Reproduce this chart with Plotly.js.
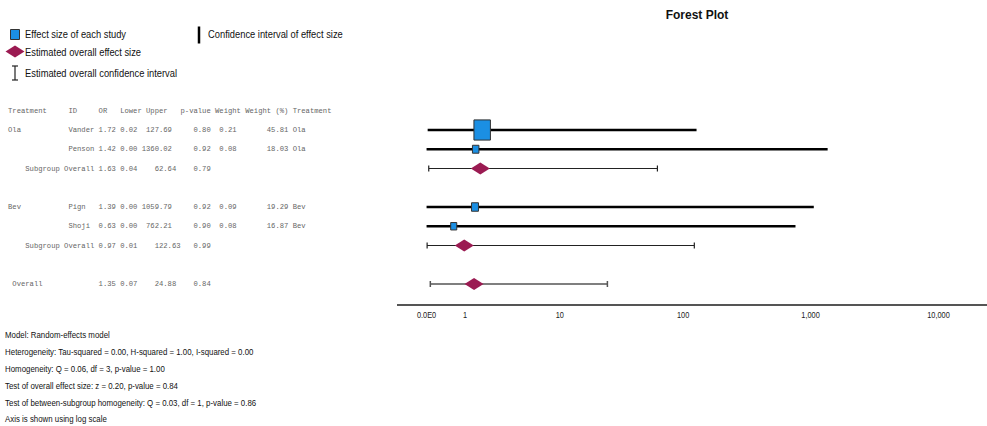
<!DOCTYPE html>
<html>
<head>
<meta charset="utf-8">
<script src="https://cdn.plot.ly/plotly-3.0.1.min.js"></script>
<style>
  html, body { margin: 0; padding: 0; background: #fff; }
  #chart { width: 987px; height: 426px; }
</style>
</head>
<body>
<div id="chart"></div>
<script>
// ---- study-level results (odds ratios with 95% CI) ----
const groupNames = ['Ola', 'Bev'];
const studyIds = ['Vander', 'Penson', 'Pign', 'Shoji'];
const studyGroups = ['Ola', 'Ola', 'Bev', 'Bev'];
const studyOR = [1.72, 1.42, 1.39, 0.63];
const studyLower = [0.02, 0.00, 0.00, 0.00];
const studyUpper = [127.69, 1360.02, 1059.79, 762.21];
const studyP = [0.80, 0.92, 0.92, 0.90];
const studyWeight = [0.21, 0.08, 0.09, 0.08];
const studyWeightPct = [45.81, 18.03, 19.29, 16.87];

// ---- subgroup pooled estimates (same order as groupNames) ----
const subgroupOR = [1.63, 0.97];
const subgroupLower = [0.04, 0.01];
const subgroupUpper = [62.64, 122.63];
const subgroupP = [0.79, 0.99];

// ---- overall pooled estimate ----
const overallOR = [1.35];
const overallLower = [0.07];
const overallUpper = [24.88];
const overallP = [0.84];

// ---- axis ticks (raw odds-ratio scale) ----
const tickValues = [0, 1, 10, 100, 1000, 10000];
const tickLabels = ['0.0E0', '1', '10', '100', '1,000', '10,000'];

// ---- model summary lines ----
const summaryLines = [
  'Model: Random-effects model',
  'Heterogeneity: Tau-squared = 0.00, H-squared = 1.00, I-squared = 0.00',
  'Homogeneity: Q = 0.06, df = 3, p-value = 1.00',
  'Test of overall effect size: z = 0.20, p-value = 0.84',
  'Test of between-subgroup homogeneity: Q = 0.03, df = 1, p-value = 0.86',
  'Axis is shown using log scale'
];

// log(1 + x) transform so that an OR of zero stays on the axis
const T = v => Math.log10(v + 1);
const f2 = v => v.toFixed(2);

// ---- geometry helpers (plot area: x 397..987 px, y 24..304 px) ----
const PL = 397, PW = 590, PT = 24, PH = 280;
const X = px => (px - PL) / PW;
const Y = py => (PT + PH - py) / PH;

const SANS = '"Liberation Sans", Arial, sans-serif';
const MONO = '"Liberation Mono", "Courier New", monospace';
const CONDENSE = 0.82; // horizontal squeeze for the condensed labels

// ---- assign rows ----
const studyRow = [], subgroupRow = [];
let row = 0;
groupNames.forEach((g, gi) => {
  studyIds.forEach((id, i) => { if (studyGroups[i] === g) { row += 1; studyRow[i] = row; } });
  row += 1; subgroupRow[gi] = row;
  row += 1; // spacer
});
row += 1;
const overallRow = [row];

// ---- table text as fixed-width lines ----
function line(parts) {
  const chars = [];
  parts.forEach(([text, col]) => {
    for (let k = 0; k < text.length; k++) chars[col + k] = text[k];
  });
  let s = '';
  for (let k = 0; k < chars.length; k++) s += chars[k] === undefined ? ' ' : chars[k];
  return s.replace(/ /g, '\u00a0');
}
const rightAt = (text, end) => [text, end - text.length];

const tableRows = [];
tableRows.push({ y: 0, text: line([['Treatment', 0], ['ID', 14], ['OR', 21], ['Lower', 26], ['Upper', 32],
  ['p-value', 40], ['Weight', 48], ['Weight (%)', 55], ['Treatment', 66]]) });
const firstInGroup = {};
studyIds.forEach((id, i) => {
  const g = studyGroups[i];
  const showGroup = !firstInGroup[g];
  firstInGroup[g] = true;
  tableRows.push({ y: studyRow[i], text: line([
    [showGroup ? g : '', 0], [id, 14], [f2(studyOR[i]), 21], [f2(studyLower[i]), 26],
    rightAt(f2(studyUpper[i]), 38), [f2(studyP[i]), 43], [f2(studyWeight[i]), 49],
    rightAt(f2(studyWeightPct[i]), 65), [g, 66]]) });
});
groupNames.forEach((g, gi) => {
  tableRows.push({ y: subgroupRow[gi], text: line([
    ['Subgroup Overall', 4], [f2(subgroupOR[gi]), 21], [f2(subgroupLower[gi]), 26],
    [f2(subgroupUpper[gi]), 34], [f2(subgroupP[gi]), 43]]) });
});
tableRows.push({ y: overallRow[0], text: line([
  ['Overall', 1], [f2(overallOR[0]), 21], [f2(overallLower[0]), 26],
  [f2(overallUpper[0]), 34], [f2(overallP[0]), 43]]) });

// ---- traces ----
const ciX = [], ciY = [];
studyIds.forEach((id, i) => {
  ciX.push(T(studyLower[i]), T(studyUpper[i]), null);
  ciY.push(studyRow[i], studyRow[i], null);
});
const traces = [
  { type: 'scatter', mode: 'lines', x: ciX, y: ciY, line: { color: '#000', width: 2.7 },
    hoverinfo: 'skip', showlegend: false },
  { type: 'scatter', mode: 'markers', x: subgroupOR.map(T), y: subgroupRow,
    marker: { size: 1, color: 'rgba(0,0,0,0)' },
    error_x: { type: 'data', symmetric: false,
      array: subgroupOR.map((v, i) => T(subgroupUpper[i]) - T(v)),
      arrayminus: subgroupOR.map((v, i) => T(v) - T(subgroupLower[i])),
      color: '#222', thickness: 1.2, width: 3 },
    hoverinfo: 'skip', showlegend: false },
  { type: 'scatter', mode: 'markers', x: overallOR.map(T), y: overallRow,
    marker: { size: 1, color: 'rgba(0,0,0,0)' },
    error_x: { type: 'data', symmetric: false,
      array: overallOR.map((v, i) => T(overallUpper[i]) - T(v)),
      arrayminus: overallOR.map((v, i) => T(v) - T(overallLower[i])),
      color: '#555', thickness: 1.5, width: 3 },
    hoverinfo: 'skip', showlegend: false }
];

// ---- shapes: study boxes sized by weight, pooled diamonds, legend glyphs ----
const BLUE = '#1b8fe3', BERRY = '#9b1b52';
const diamondPath = 'M-9.5,0 L0,6 L9.5,0 L0,-6 Z';
const shapes = [];
studyIds.forEach((id, i) => {
  const w = studyWeightPct[i] * 0.36, h = studyWeightPct[i] * 0.44;
  shapes.push({ type: 'rect', layer: 'above', xref: 'x', yref: 'y',
    xsizemode: 'pixel', ysizemode: 'pixel', xanchor: T(studyOR[i]), yanchor: studyRow[i],
    x0: -w / 2, x1: w / 2, y0: -h / 2, y1: h / 2,
    fillcolor: BLUE, line: { color: '#333', width: 1 } });
});
subgroupOR.concat(overallOR).forEach((v, k) => {
  const r = k < subgroupOR.length ? subgroupRow[k] : overallRow[0];
  shapes.push({ type: 'path', layer: 'above', xref: 'x', yref: 'y',
    xsizemode: 'pixel', ysizemode: 'pixel', xanchor: T(v), yanchor: r,
    path: diamondPath, fillcolor: BERRY, line: { width: 0 } });
});
// legend glyphs
shapes.push({ type: 'rect', xref: 'paper', yref: 'paper', x0: X(10.5), x1: X(19.5), y0: Y(29.5), y1: Y(39.5),
  fillcolor: BLUE, line: { color: '#333', width: 1 } });
shapes.push({ type: 'path', xref: 'paper', yref: 'paper', xsizemode: 'pixel', ysizemode: 'pixel',
  xanchor: X(15), yanchor: Y(51.5), path: diamondPath, fillcolor: BERRY, line: { width: 0 } });
shapes.push({ type: 'line', xref: 'paper', yref: 'paper', x0: X(15), x1: X(15), y0: Y(66), y1: Y(80),
  line: { color: '#222', width: 1.2 } });
shapes.push({ type: 'line', xref: 'paper', yref: 'paper', x0: X(12), x1: X(18), y0: Y(66), y1: Y(66),
  line: { color: '#222', width: 1.2 } });
shapes.push({ type: 'line', xref: 'paper', yref: 'paper', x0: X(12), x1: X(18), y0: Y(80), y1: Y(80),
  line: { color: '#222', width: 1.2 } });
shapes.push({ type: 'line', xref: 'paper', yref: 'paper', x0: X(199), x1: X(199), y0: Y(26.5), y1: Y(43.5),
  line: { color: '#000', width: 2.5 } });

// ---- annotations ----
const annotations = [];
tableRows.forEach(r => annotations.push({
  xref: 'paper', yref: 'y', x: X(7.5), y: r.y, xanchor: 'left', yanchor: 'middle',
  text: r.text, showarrow: false, borderpad: 0, borderwidth: 0,
  font: { family: MONO, size: 7.2, color: '#666' } }));
[['Effect size of each study', 25, 34], ['Estimated overall effect size', 25, 51.5],
 ['Estimated overall confidence interval', 25, 73], ['Confidence interval of effect size', 208, 34]]
  .forEach(([t, px, py]) => annotations.push({
    xref: 'paper', yref: 'paper', x: X(px), y: Y(py), xanchor: 'left', yanchor: 'middle',
    text: t, showarrow: false, borderpad: 0, borderwidth: 0,
    font: { family: SANS, size: 11.4, color: '#111' } }));
summaryLines.forEach((t, i) => annotations.push({
  xref: 'paper', yref: 'paper', x: X(5), y: Y(334 + 17 * i), xanchor: 'left', yanchor: 'middle',
  text: t, showarrow: false, borderpad: 0, borderwidth: 0,
  font: { family: SANS, size: 9.6, color: '#111' } }));

const layout = {
  width: 987, height: 426,
  margin: { l: PL, r: 987 - PL - PW, t: PT, b: 426 - PT - PH, pad: 0 },
  paper_bgcolor: '#fff', plot_bgcolor: '#fff',
  title: { text: '<b>Forest Plot</b>', xref: 'paper', x: X(697), xanchor: 'center',
    yref: 'container', y: 1 - 15 / 426, yanchor: 'middle',
    font: { family: SANS, size: 12, color: '#111' } },
  showlegend: false,
  hovermode: false,
  xaxis: {
    range: [-0.231, 4.379], fixedrange: true,
    tickmode: 'array', tickvals: tickValues.map(T), ticktext: tickLabels,
    ticks: '', showgrid: false, zeroline: false, ticklabelstandoff: 2,
    showline: true, linecolor: '#555', linewidth: 1.5,
    tickfont: { family: SANS, size: 9, color: '#222' }
  },
  yaxis: { range: [10.039, -4.506], visible: false, fixedrange: true, showgrid: false, zeroline: false },
  shapes: shapes,
  annotations: annotations
};

// squeeze sans-serif labels horizontally to a condensed face
function condense(el, anchor) {
  const b = el.getBBox();
  const cx = anchor === 'middle' ? b.x + b.width / 2 : b.x;
  const old = el.getAttribute('transform') || '';
  el.setAttribute('transform', old + ' translate(' + cx + ',0) scale(' + CONDENSE + ',1) translate(' + (-cx) + ',0)');
}

Plotly.newPlot('chart', traces, layout, { displayModeBar: false, staticPlot: true }).then(gd => {
  gd.querySelectorAll('.annotation-text').forEach(t => {
    if ((t.style.fontFamily || '').indexOf('Mono') === -1) condense(t, 'start');
  });
  gd.querySelectorAll('.xtick text').forEach(t => condense(t, 'middle'));
});
</script>
</body>
</html>
